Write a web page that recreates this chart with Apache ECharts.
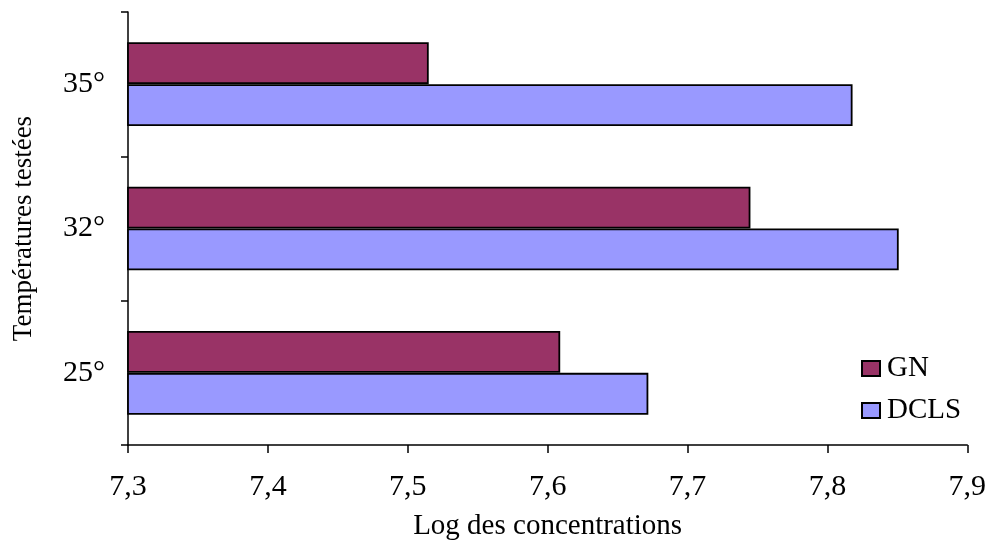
<!DOCTYPE html>
<html>
<head>
<meta charset="utf-8">
<script src="https://cdn.jsdelivr.net/npm/echarts@6/dist/echarts.min.js"></script>
<style>html,body{margin:0;padding:0;background:#fff}#c{width:989px;height:554px}</style>
</head>
<body>
<div id="c"></div>
<script>
var categories = ['25°', '32°', '35°'];
var gnValues = [7.609, 7.745, 7.515];
var dclsValues = [7.672, 7.851, 7.818];
var xTicks = {min: 7.3, max: 7.9, interval: 0.1};

var FONT = '"Liberation Serif", "Times New Roman", serif';
var chart = echarts.init(document.getElementById('c'), null, {renderer: 'canvas'});
chart.setOption({
  animation: false,
  backgroundColor: '#ffffff',
  grid: {left: 128, right: 21, top: 12, bottom: 109, containLabel: false},
  legend: {
    data: ['GN', 'DCLS'],
    orient: 'vertical',
    left: 856, top: 349,
    itemWidth: 18, itemHeight: 15, itemGap: 13,
    icon: 'rect',
    textStyle: {fontFamily: FONT, fontSize: 29, color: '#000', padding: [0, 0, 0, 2]}
  },
  xAxis: {
    type: 'value',
    min: xTicks.min, max: xTicks.max, interval: xTicks.interval,
    name: 'Log des concentrations',
    nameLocation: 'middle', nameGap: 67,
    nameTextStyle: {fontFamily: FONT, fontSize: 29, color: '#000'},
    axisLine: {show: true, lineStyle: {color: '#000', width: 1.5}},
    axisTick: {show: true, length: 8, lineStyle: {color: '#000', width: 1.5}},
    axisLabel: {fontFamily: FONT, fontSize: 30, color: '#000', margin: 27,
      formatter: function (v) { return (Math.round(v * 10) / 10).toFixed(1).replace('.', ','); }},
    splitLine: {show: false}
  },
  yAxis: {
    type: 'category',
    data: categories,
    name: 'Températures testées',
    nameLocation: 'middle', nameGap: 91, nameRotate: 90,
    nameTextStyle: {fontFamily: FONT, fontSize: 27, color: '#000'},
    axisLine: {show: true, lineStyle: {color: '#000', width: 1.5}},
    axisTick: {show: true, length: 7, inside: false, alignWithLabel: false, lineStyle: {color: '#000', width: 1.5}},
    axisLabel: {fontFamily: FONT, fontSize: 30, color: '#000', margin: 23},
    splitLine: {show: false}
  },
  series: [
    {
      name: 'GN', type: 'bar', data: gnValues,
      barGap: '0%', barCategoryGap: '42%',
      itemStyle: {color: '#993366', borderColor: '#000', borderWidth: 1.8}
    },
    {
      name: 'DCLS', type: 'bar', data: dclsValues,
      barGap: '0%', barCategoryGap: '42%',
      itemStyle: {color: '#9999FF', borderColor: '#000', borderWidth: 1.8}
    }
  ]
});
</script>
</body>
</html>
